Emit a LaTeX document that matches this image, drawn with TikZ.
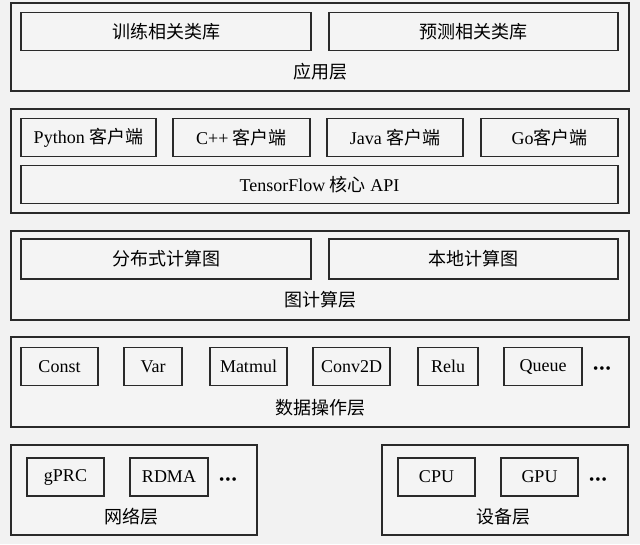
\documentclass[tikz,border=0pt]{standalone}
\usepackage{fontspec}
\setmainfont{Liberation Serif}
\newfontfamily\cjk{Noto Sans CJK SC}
\newcommand{\zh}[1]{{\cjk #1}}
\usepackage{xcolor}
\definecolor{pagebg}{HTML}{F2F2F2}
\definecolor{boxbg}{HTML}{F4F4F4}
\definecolor{edge}{HTML}{2A2A2A}
\tikzset{
  layer/.style={draw=edge, line width=1.5pt, fill=boxbg, inner sep=0pt},
  unit/.style={draw=edge, line width=1.3pt, fill=boxbg, inner sep=0pt,
    minimum height=38pt, font=\fontsize{18}{20}\selectfont},
  title/.style={inner sep=1pt, font=\fontsize{18}{20}\selectfont},
  more/.style={inner sep=0pt, font=\fontsize{15}{15}\selectfont}
}

\begin{document}
\begin{tikzpicture}[x=1pt,y=-1pt]
    \fill[pagebg] (0,0) rectangle (640,544);
    \useasboundingbox (0,0) rectangle (640,544);
    % application layer
    \node[layer, minimum width=618pt, minimum height=88pt] (app) at (320,47) {};
    \node[unit, minimum width=290pt] (train) at (166,31.5) {\zh{训练相关类库}};
    \node[unit, minimum width=289pt] (pred) at (473.5,31.5) {\zh{预测相关类库}};
    \node[title] (applbl) at (320,72) {\zh{应用层}};
    % client layer
    \node[layer, minimum width=618pt, minimum height=104pt] (client) at (320,161) {};
    \node[unit, minimum width=135pt] (py) at (88.5,137.5) {Python \zh{客户端}};
    \node[unit, minimum width=137pt] (cpp) at (241.5,137.5) {C++ \zh{客户端}};
    \node[unit, minimum width=136pt] (java) at (395,137.5) {Java \zh{客户端}};
    \node[unit, minimum width=137pt] (go) at (549.5,137.5) {Go\zh{客户端}};
    \node[unit, minimum width=597pt] (core) at (319.5,184.5) {TensorFlow \zh{核心} API};
    % graph layer
    \node[layer, minimum width=618pt, minimum height=89pt] (graph) at (320,275.5) {};
    \node[unit, minimum width=290pt, minimum height=40pt] (dist) at (166,259) {\zh{分布式计算图}};
    \node[unit, minimum width=289pt, minimum height=40pt] (local) at (473.5,259) {\zh{本地计算图}};
    \node[title] (graphlbl) at (320,300) {\zh{图计算层}};
    % op layer
    \node[layer, minimum width=618pt, minimum height=90pt] (ops) at (320,382) {};
    \node[unit, minimum width=77pt] (const) at (59.5,366.5) {Const};
    \node[unit, minimum width=58pt] (var) at (153,366.5) {Var};
    \node[unit, minimum width=77pt] (matmul) at (248.5,366.5) {Matmul};
    \node[unit, minimum width=77pt] (conv) at (351.5,366.5) {Conv2D};
    \node[unit, minimum width=60pt] (relu) at (448,366.5) {Relu};
    \node[unit, minimum width=78pt] (queue) at (543,366.5) {Queue};
    \node[more] (opsmore) at (602,370) {•\hspace{1pt}•\hspace{1pt}•};
    \node[title] (opslbl) at (320,408) {\zh{数据操作层}};
    % network layer
    \node[layer, minimum width=246pt, minimum height=90pt] (net) at (134,490) {};
    \node[unit, minimum width=77pt] (grpc) at (65.5,477) {gPRC};
    \node[unit, minimum width=78pt] (rdma) at (169,477) {RDMA};
    \node[more] (netmore) at (228,481) {•\hspace{1pt}•\hspace{1pt}•};
    \node[title] (netlbl) at (131,517) {\zh{网络层}};
    % device layer
    \node[layer, minimum width=246pt, minimum height=90pt] (dev) at (505,490) {};
    \node[unit, minimum width=77pt] (cpu) at (436.5,477) {CPU};
    \node[unit, minimum width=77pt] (gpu) at (539.5,477) {GPU};
    \node[more] (devmore) at (598,481) {•\hspace{1pt}•\hspace{1pt}•};
    \node[title] (devlbl) at (503,517) {\zh{设备层}};
  \end{tikzpicture}
\end{document}
